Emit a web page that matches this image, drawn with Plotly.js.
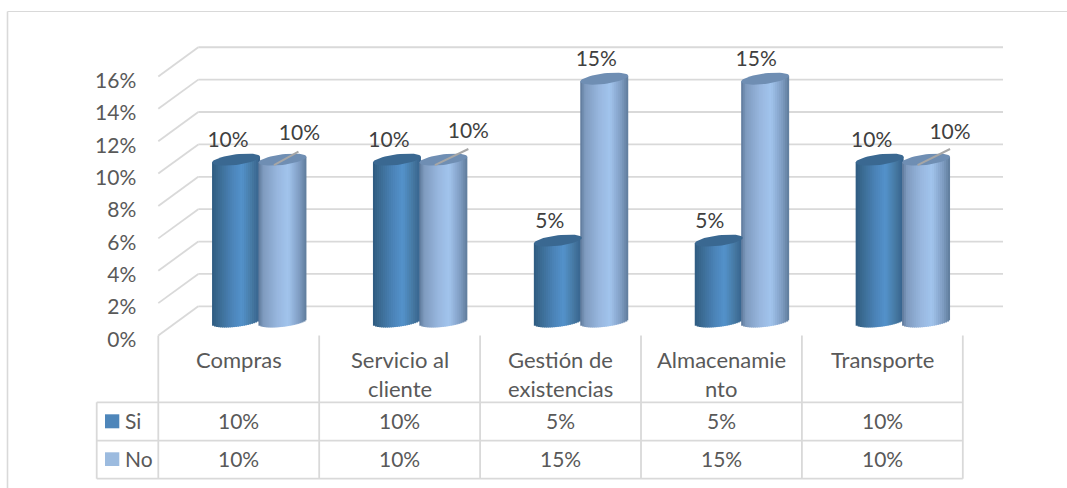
<!DOCTYPE html>
<html><head><meta charset="utf-8">
<script src="https://cdn.plot.ly/plotly-3.0.1.min.js"></script>
<style>html,body{margin:0;padding:0;background:#fff}</style></head>
<body><div id="chart" style="width:1067px;height:488px"></div>
<script>
// ---- data ----
const categories = ["Compras", "Servicio al\ncliente", "Gestión de\nexistencias", "Almacenamie\nnto", "Transporte"];
const seriesSi = [10, 10, 5, 5, 10];
const seriesNo = [10, 10, 15, 15, 10];
const yTicks = [0, 2, 4, 6, 8, 10, 12, 14, 16];

// ---- style / geometry ----
const FONT = "Lato, 'Open Sans', sans-serif";
const NUM = 21, WORD = 22;
const catPx = 160.9, valPx = 16.19, firstCellLeft = 158.3, zeroPx = 335.5;
const H = 488, W = 1067;
const xU = p => (p - (firstCellLeft + catPx / 2)) / catPx;   // pixel -> category units
const grid = "#d9d9d9";
const cyl = { halfW: 24, tiltY: 2.85, minorY: 5.28, lift: 14 / valPx };
const siGrad = [[0,"#2e5a80"],[.12,"#39698f"],[.4,"#4a82b6"],[.62,"#5492cb"],[.85,"#44769f"],[1,"#35608a"]];
const noGrad = [[0,"#5d7899"],[.1,"#7f9bbf"],[.4,"#98b7df"],[.62,"#a2c4ed"],[.85,"#7f9dc2"],[1,"#5e7b9b"]];
const siOff = -2.7, noOff = 43.7;  // px from category centre
const siLabelDx = [-8, -8, -8, -9, -8], noLabelDx = [17, 25, -8, -9, 24];
const siLabelDy = 18.2;
const noLabelDy = [24.5, 26.5, 17.6, 17.6, 25.5];
const leaderDx = [16, 25, 0, 0, 24], leaderDy = [8, 10.6, 0, 0, 10.6];

function hex(c){return [1,3,5].map(i=>parseInt(c.substr(i,2),16));}
function gradAt(st,u){
  for(let i=1;i<st.length;i++) if(u<=st[i][0]){
    const f=(u-st[i-1][0])/(st[i][0]-st[i-1][0]);const a=hex(st[i-1][1]),b=hex(st[i][1]);
    return "rgb("+a.map((v,k)=>Math.round(v+(b[k]-v)*f)).join(",")+")";
  }
  return st[st.length-1][1];
}
const idx = categories.map((_,i)=>i);
const traces = [];
const STRIPS = 24;

function cylinder(name, vals, off, st, topCol){
  const center = idx.map(i=>i+off/catPx);
  // plain bar carrying the value
  traces.push({type:"bar",name,x:center,y:vals,base:idx.map(()=>cyl.lift),width:cyl.halfW/catPx,
    marker:{color:gradAt(st,.5),line:{width:0}},showlegend:false,hoverinfo:"skip"});
  for(let k=0;k<STRIPS;k++){
    const uL=-1+2*k/STRIPS, uR=-1+2*(k+1)/STRIPS, u=(uL+uR)/2;
    const low=(cyl.tiltY*u-cyl.minorY*Math.sqrt(Math.max(0,1-u*u)))/valPx;
    const hi=cyl.tiltY*u/valPx;
    const bases=vals.map(()=>cyl.lift+low);
    traces.push({type:"bar",x:center,y:vals.map(v=>v+hi-low),base:bases,
      offset:uL*cyl.halfW/catPx,width:(uR-uL)*cyl.halfW/catPx*(k<STRIPS-1?1.5:1),
      marker:{color:gradAt(st,(u+1)/2),line:{width:0}},showlegend:false,hoverinfo:"skip"});
  }
  // top ellipses
  vals.forEach((v,i)=>{
    const xs=[],ys=[];
    for(let a=0;a<=48;a++){const t=a/48*2*Math.PI;
      xs.push(center[i]+cyl.halfW*Math.cos(t)/catPx);
      ys.push(v+cyl.lift+(cyl.tiltY*Math.cos(t)+cyl.minorY*Math.sin(t))/valPx);}
    traces.push({type:"scatter",mode:"lines",x:xs,y:ys,fill:"toself",fillcolor:topCol,
      line:{width:0,color:topCol},showlegend:false,hoverinfo:"skip"});
  });
  return center;
}
const siC = cylinder("Si",seriesSi,siOff,siGrad,"#3a6891");
const noC = cylinder("No",seriesNo,noOff,noGrad,"#6f8eb3");

// leader lines from label to No cylinder tops
const lx=[],ly=[];
seriesNo.forEach((v,i)=>{ if(!leaderDx[i])return;
  lx.push(noC[i]-8.5/catPx, noC[i]+leaderDx[i]/catPx, null);
  ly.push(v+cyl.lift-5.5/valPx, v+cyl.lift+leaderDy[i]/valPx, null);
});
traces.push({type:"scatter",mode:"lines",x:lx,y:ly,line:{color:"#a6a6a6",width:2},showlegend:false,hoverinfo:"skip"});

// data labels
traces.push({type:"scatter",mode:"text",x:siC.map((c,i)=>c+siLabelDx[i]/catPx),
  y:seriesSi.map(v=>v+cyl.lift+siLabelDy/valPx),text:seriesSi.map(v=>v+"%"),textposition:"middle center",
  textfont:{family:FONT,size:NUM,color:"#404040"},showlegend:false,hoverinfo:"skip"});
traces.push({type:"scatter",mode:"text",x:noC.map((c,i)=>c+noLabelDx[i]/catPx),
  y:seriesNo.map((v,i)=>v+cyl.lift+noLabelDy[i]/valPx),text:seriesNo.map(v=>v+"%"),textposition:"middle center",
  textfont:{family:FONT,size:NUM,color:"#404040"},showlegend:false,hoverinfo:"skip"});

// ---- shapes: walls, gridlines, frame, table ----
const shapes=[];
const L=(x0,y0,x1,y1,xref,yref,w)=>shapes.push({type:"line",x0,y0,x1,y1,xref,yref,layer:"below",line:{color:grid,width:w||1.8}});
const py=p=>1-p/H, px=p=>p/W;
// frame
L(px(7.5),py(11.5),px(7.5),py(488),"paper","paper",1.6);
L(px(7.5),py(11.5),px(1067),py(11.5),"paper","paper",1.2);
// gridlines with perspective leg
const depthV=29.2/valPx;
yTicks.forEach(v=>{
  L(xU(158.3),v,xU(198.3),v+depthV,"x","y");
  L(xU(198.3),v+depthV,xU(1003),v+depthV,"x","y");
});
// table
const colEdges=[...idx.map(i=>i-.5),idx.length-.5];
colEdges.forEach(e=>L(e,py(zeroPx),e,py(478.7),"x","paper",1.8));
[402.3,440.7,478.7].forEach(r=>L(xU(96.7),py(r),colEdges[colEdges.length-1],py(r),"x","paper",1.8));
L(xU(96.7),py(402.3),xU(96.7),py(478.7),"x","paper",1.8);
// legend keys
shapes.push({type:"rect",xref:"paper",yref:"paper",x0:px(105),x1:px(119.3),y0:py(414.3),y1:py(428.3),fillcolor:"#4e86ba",line:{width:0}});
shapes.push({type:"rect",xref:"paper",yref:"paper",x0:px(105),x1:px(119.3),y0:py(452.3),y1:py(466),fillcolor:"#9cbbdf",line:{width:0}});

// ---- annotations: category labels & table text ----
const ann=[];
const T=(text,x,yp,size,xanchor)=>ann.push({text,x,y:py(yp),xref:"x",yref:"paper",xanchor:xanchor||"center",yanchor:"middle",showarrow:false,
  font:{family:FONT,size,color:"#595959"},borderpad:0});
categories.forEach((c,i)=>c.split("\n").forEach((ln,k)=>T(ln,i,359+k*29,WORD)));
idx.forEach(i=>{T(seriesSi[i]+"%",i,420.5,NUM);T(seriesNo[i]+"%",i,458.5,NUM);});
T("Si",xU(123.5),420.5,21,"left");
T("No",xU(123.5),458.5,21,"left");

const layout={width:W,height:H,margin:{l:0,r:0,t:0,b:0},paper_bgcolor:"#fff",plot_bgcolor:"rgba(0,0,0,0)",
  barmode:"overlay",showlegend:false,
  xaxis:{range:[xU(0),xU(W)],visible:false,fixedrange:true},
  yaxis:{range:[-(H-zeroPx)/valPx,zeroPx/valPx],anchor:"free",position:158.3/W,side:"left",
    tickmode:"array",tickvals:yTicks,ticktext:yTicks.map(v=>v+"%"),ticks:"",showgrid:false,zeroline:false,showline:false,
    ticklabelstandoff:22,ticklabelshift:4,tickfont:{family:FONT,size:NUM,color:"#595959"},fixedrange:true},
  shapes,annotations:ann};
Plotly.newPlot("chart",traces,layout,{displayModeBar:false,staticPlot:true});
</script></body></html>
